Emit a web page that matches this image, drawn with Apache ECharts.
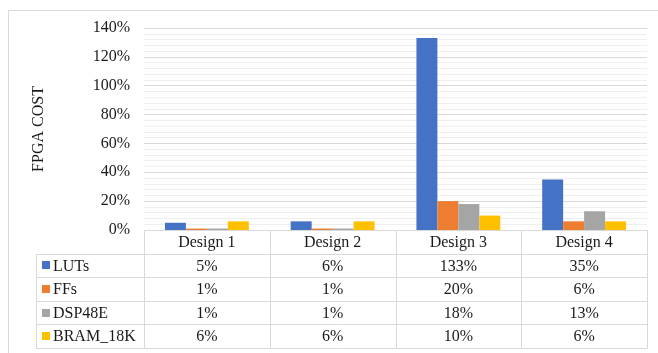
<!DOCTYPE html>
<html>
<head>
<meta charset="utf-8">
<script src="https://cdn.jsdelivr.net/npm/echarts@6/dist/echarts.min.js"></script>
<style>
html,body{margin:0;padding:0;background:#fff;}
#chart{width:658px;height:353px;}
</style>
</head>
<body>
<div id="chart"></div>
<script>
const categories = ['Design 1', 'Design 2', 'Design 3', 'Design 4'];
const seriesNames = ['LUTs', 'FFs', 'DSP48E', 'BRAM_18K'];
const lutsValues = [5, 6, 133, 35];
const ffsValues = [1, 1, 20, 6];
const dspValues = [1, 1, 18, 13];
const bramValues = [6, 6, 10, 6];
const yMax = 140;
const yInterval = 20;
const yTitle = 'FPGA COST';

const seriesValues = [lutsValues, ffsValues, dspValues, bramValues];
const colors = ['#4472C4', '#ED7D31', '#A5A5A5', '#FFC000'];
const FONT = "'Liberation Serif', 'Times New Roman', serif";
const W = 658, H = 353;
const G = { left: 144, right: 11, top: 28, bottom: 123 };
const gridLine = '#d9d9d9';
const textColor = '#1a1a1a';

const chart = echarts.init(document.getElementById('chart'), null, { renderer: 'canvas' });

const option = {
  animation: false,
  backgroundColor: '#fff',
  grid: { left: G.left, right: G.right, top: G.top, bottom: G.bottom, containLabel: false },
  xAxis: {
    type: 'category',
    data: categories,
    axisLine: { show: true, lineStyle: { color: gridLine, width: 1 } },
    axisTick: { show: false },
    axisLabel: { show: false },
    splitLine: { show: false }
  },
  yAxis: {
    type: 'value',
    min: 0,
    max: yMax,
    interval: yInterval,
    name: yTitle,
    nameLocation: 'middle',
    nameRotate: 90,
    nameGap: 97,
    nameTextStyle: { fontFamily: FONT, fontSize: 16, color: textColor },
    axisLine: { show: false },
    axisTick: { show: false },
    axisLabel: { formatter: '{value}%', fontFamily: FONT, fontSize: 16, color: textColor, margin: 14 },
    splitLine: { show: true, lineStyle: { color: gridLine, width: 1 } },
    minorTick: { show: false, splitNumber: 5 },
    minorSplitLine: { show: true, lineStyle: { color: '#eeeeee', width: 1 } }
  },
  series: seriesNames.map((n, i) => ({
    name: n,
    type: 'bar',
    data: seriesValues[i],
    barGap: '0%',
    barCategoryGap: '33.3%',
    itemStyle: { color: colors[i] }
  }))
};
chart.setOption(option);

// Data table built from the arrays, aligned to the grid
function buildTable() {
  const plotL = G.left, plotR = W - G.right, plotB = H - G.bottom;
  const colW = (plotR - plotL) / categories.length;
  const rowH = 23.6;
  const tableL = 36;
  const els = [];
  const px = v => Math.round(v) + 0.5;
  els.push({ type: 'rect', shape: { x: 8.5, y: 10.5, width: 700, height: 400 }, style: { fill: 'none', stroke: gridLine, lineWidth: 1 }, silent: true });
  const nRows = seriesNames.length;
  const bottomY = plotB + rowH * (nRows + 1);
  for (let c = 0; c <= categories.length; c++) {
    const x = px(plotL + c * colW);
    els.push({ type: 'line', shape: { x1: x, y1: plotB, x2: x, y2: bottomY }, style: { stroke: gridLine, lineWidth: 1 }, silent: true });
  }
  els.push({ type: 'line', shape: { x1: px(tableL), y1: plotB + rowH, x2: px(tableL), y2: bottomY }, style: { stroke: gridLine, lineWidth: 1 }, silent: true });
  for (let r = 1; r <= nRows + 1; r++) {
    const y = px(plotB + r * rowH);
    els.push({ type: 'line', shape: { x1: tableL, y1: y, x2: plotR + 0.5, y2: y }, style: { stroke: gridLine, lineWidth: 1 }, silent: true });
  }
  categories.forEach((c, i) => {
    els.push({ type: 'text', x: plotL + (i + 0.5) * colW, y: plotB + rowH / 2 + 1, style: { text: c, font: '16px ' + FONT, fill: textColor, align: 'center', verticalAlign: 'middle' }, silent: true });
  });
  seriesNames.forEach((n, r) => {
    const cy = plotB + (r + 1.5) * rowH + 1;
    els.push({ type: 'rect', shape: { x: 42, y: Math.round(cy - 5), width: 8, height: 8 }, style: { fill: colors[r] }, silent: true });
    els.push({ type: 'text', x: 53, y: cy, style: { text: n, font: '16px ' + FONT, fill: textColor, align: 'left', verticalAlign: 'middle' }, silent: true });
    seriesValues[r].forEach((v, i) => {
      els.push({ type: 'text', x: plotL + (i + 0.5) * colW, y: cy, style: { text: v + '%', font: '16px ' + FONT, fill: textColor, align: 'center', verticalAlign: 'middle' }, silent: true });
    });
  });
  chart.setOption({ graphic: { elements: els } });
}
buildTable();
</script>
</body>
</html>
